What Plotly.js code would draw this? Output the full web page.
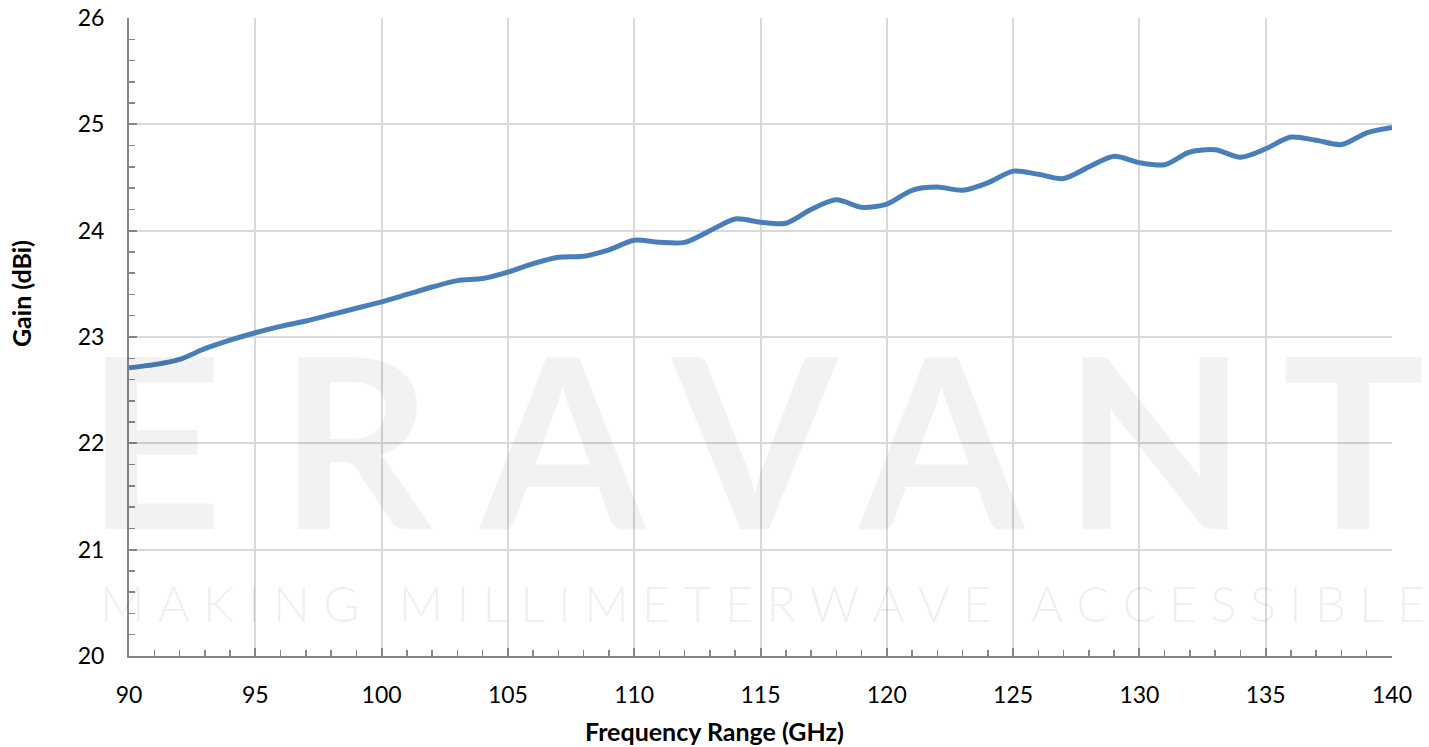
<!DOCTYPE html>
<html>
<head>
<meta charset="utf-8">
<script src="https://cdn.plot.ly/plotly-3.0.1.min.js"></script>
<style>html,body{margin:0;padding:0;background:#fff;}#chart{width:1429px;height:747px;}</style>
</head>
<body>
<div id="chart"></div>
<script>
const frequencyGHz = [90,91,92,93,94,95,96,97,98,99,100,101,102,103,104,105,106,107,108,109,110,111,112,113,114,115,116,117,118,119,120,121,122,123,124,125,126,127,128,129,130,131,132,133,134,135,136,137,138,139,140];
const gainDBi = [22.71,22.74,22.79,22.89,22.97,23.04,23.10,23.15,23.21,23.27,23.33,23.40,23.47,23.53,23.55,23.61,23.69,23.75,23.76,23.82,23.91,23.89,23.89,24.00,24.11,24.08,24.07,24.20,24.29,24.22,24.25,24.38,24.41,24.38,24.45,24.56,24.53,24.49,24.60,24.70,24.64,24.62,24.74,24.76,24.69,24.77,24.88,24.85,24.81,24.92,24.97];
const xTickVals = [90,95,100,105,110,115,120,125,130,135,140];
const yTickVals = [20,21,22,23,24,25,26];
const xTitle = 'Frequency Range (GHz)';
const yTitle = 'Gain (dBi)';
const watermark = 'ERAVANT';
const tagline = 'MAKING MILLIMETERWAVE ACCESSIBLE';

const axisColor = '#868686';
const gridColor = '#d9d9d9';
const fontFam = 'Lato, "Open Sans", sans-serif';

// plot-area geometry (pixels)
const W = 1429, H = 747, ML = 129, MR = 37, MT = 18, MB = 91;
const PW = W - ML - MR, PH = H - MT - MB;
const pxToPaperX = px => (px - ML) / PW;
const pxToPaperY = py => (H - MB - py) / PH;

// watermark letter centres (pixels) and sizes
const wmCentres = [158, 364, 561, 753, 940, 1154, 1352];
const wmSize = 238, wmWeight = 'bold';
const tagLeft = 104, tagRight = 1422, tagSize = 49, tagWeight = 300;

const ctx = document.createElement('canvas').getContext('2d');
if ('fontKerning' in ctx) ctx.fontKerning = 'none';

function buildWatermark() {
  ctx.font = `${wmWeight} ${wmSize}px Lato`;
  const letters = watermark.split('');
  const m = letters.map(c => ctx.measureText(c));
  const pen = letters.map((c, i) => wmCentres[i] - (m[i].actualBoundingBoxRight - m[i].actualBoundingBoxLeft) / 2);
  const sp = letters.map((c, i) => i < letters.length - 1 ? pen[i + 1] - pen[i] - m[i].width : 0);
  const html = letters.map((c, i) => `<span style="letter-spacing:${sp[i].toFixed(1)}px;font-kerning:none">${c}</span>`).join('');
  return {html, x0: pen[0] - 1};
}
function buildTagline() {
  ctx.font = `${tagWeight} ${tagSize}px Lato`;
  const mAll = ctx.measureText(tagline);
  const first = ctx.measureText(tagline[0]);
  const inkW = mAll.actualBoundingBoxRight + mAll.actualBoundingBoxLeft;
  const s = ((tagRight - tagLeft) - inkW) / (tagline.length - 1);
  const head = tagline.slice(0, -1), last = tagline.slice(-1);
  const html = `<span style="letter-spacing:${s.toFixed(2)}px;font-kerning:none">${head}</span><span style="font-kerning:none">${last}</span>`;
  return {html, x0: tagLeft + first.actualBoundingBoxLeft - 1};
}

const wm = buildWatermark();
const tg = buildTagline();

const trace = {
  x: frequencyGHz,
  y: gainDBi,
  type: 'scatter',
  mode: 'lines',
  line: {color: '#4a7ebb', width: 5, shape: 'spline', smoothing: 0.8},
  hoverinfo: 'x+y'
};

const layout = {
  width: W, height: H,
  margin: {l: ML, r: MR, t: MT, b: MB},
  paper_bgcolor: '#ffffff',
  plot_bgcolor: 'rgba(0,0,0,0)',
  showlegend: false,
  font: {family: fontFam, color: '#000000'},
  xaxis: {
    range: [90, 140],
    tickvals: xTickVals,
    ticks: 'inside', ticklen: 8, tickwidth: 2, tickcolor: axisColor,
    showline: true, linecolor: axisColor, linewidth: 2,
    showgrid: true, gridcolor: gridColor, gridwidth: 2,
    zeroline: false,
    tickfont: {family: fontFam, size: 23, color: '#000'},
    ticklabelstandoff: 17,
    minor: {dtick: 1, ticks: 'inside', ticklen: 6, tickwidth: 1.5, tickcolor: axisColor, showgrid: false},
    fixedrange: true
  },
  yaxis: {
    range: [20, 26],
    tickvals: yTickVals,
    ticks: 'inside', ticklen: 8, tickwidth: 2, tickcolor: axisColor,
    showline: true, linecolor: axisColor, linewidth: 2,
    showgrid: true, gridcolor: gridColor, gridwidth: 2,
    zeroline: false,
    tickfont: {family: fontFam, size: 23, color: '#000'},
    ticklabelstandoff: 18,
    minor: {dtick: 0.2, ticks: 'inside', ticklen: 6, tickwidth: 1.5, tickcolor: axisColor, showgrid: false},
    fixedrange: true
  },
  annotations: [
    {
      text: wm.html, xref: 'paper', yref: 'paper',
      x: pxToPaperX(wm.x0), y: pxToPaperY(437), xanchor: 'left', yanchor: 'middle', align: 'left',
      showarrow: false, borderpad: 1,
      font: {family: fontFam, size: wmSize, weight: wmWeight, color: 'rgba(0,0,0,0.052)'}
    },
    {
      text: tg.html, xref: 'paper', yref: 'paper',
      x: pxToPaperX(tg.x0), y: pxToPaperY(602.5), xanchor: 'left', yanchor: 'middle', align: 'left',
      showarrow: false, borderpad: 1,
      font: {family: fontFam, size: tagSize, weight: tagWeight, color: 'rgba(0,0,0,0.062)'}
    },
    {
      text: yTitle, xref: 'paper', yref: 'paper',
      x: pxToPaperX(21), y: pxToPaperY(294), xanchor: 'center', yanchor: 'middle',
      textangle: -90, showarrow: false,
      font: {family: fontFam, size: 25, weight: 'bold', color: '#000'}
    },
    {
      text: xTitle, xref: 'paper', yref: 'paper',
      x: pxToPaperX(714.5), y: pxToPaperY(731), xanchor: 'center', yanchor: 'middle',
      showarrow: false,
      font: {family: fontFam, size: 25, weight: 'bold', color: '#000'}
    }
  ]
};

Plotly.newPlot('chart', [trace], layout, {displayModeBar: false, staticPlot: true});
</script>
</body>
</html>
